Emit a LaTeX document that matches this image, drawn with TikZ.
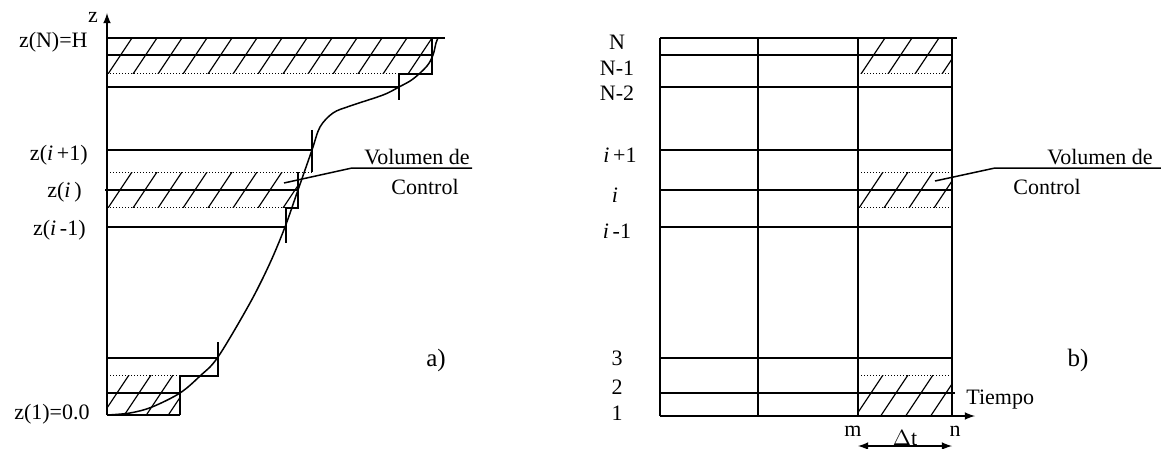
\documentclass[tikz,border=0pt]{standalone}
\usepackage{fontspec}
\setmainfont{Liberation Serif}
\usetikzlibrary{calc,positioning}
\tikzset{
 vc line/.style={line width=0.75pt},
 vc dotted/.style={line width=0.5pt,densely dotted},
 vc hatch/.style={line width=0.6pt},
 vc label/.style={font=\fontsize{11}{13}\selectfont,inner sep=0pt},
 vc tag/.style={font=\fontsize{12.5}{14}\selectfont,inner sep=0pt}
}
% #1,#2 top left -- #3,#4 bottom right, #5 spacing, #6 number of strokes
\newcommand{\hatchband}[6]{%
 \begin{scope}
  \clip (#1,#2) rectangle (#3,#4);
  \foreach \k in {0,...,#6}
   \draw[vc hatch] ({#1+\k*#5+40},#2-60) -- ({#1+\k*#5-40},#2+60);
 \end{scope}}

\begin{document}
\begin{tikzpicture}[x=0.5pt,y=-0.5pt]
 \useasboundingbox (0,0) rectangle (1161,449);

 % ---- a) profile ----
 \coordinate (o) at (107,415);
 \coordinate (ztop) at (107,13);
 \draw[vc line,-latex] (o) -- (ztop);
 \node[vc label] (zname) at (93,17) {z};

 \hatchband{107}{38}{432}{74}{25}{15}
 \hatchband{107}{172}{298}{207}{25}{9}
 \hatchband{107}{375}{180}{415}{22}{5}

 \draw[vc line] (107,38) -- (445,38);
 \draw[vc line] (107,55) -- (432,55);
 \draw[vc dotted] (107,74) -- (399,74);
 \draw[vc line] (107,87) -- (399,87);
 \draw[vc line] (432,38) -- (432,74) -- (399,74) -- (399,100);

 \draw[vc line] (107,150) -- (312,150);
 \draw[vc line] (312,130) -- (312,172);
 \draw[vc dotted] (107,172) -- (312,172);
 \draw[vc line] (105,190) -- (298,190);
 \draw[vc line] (298,172) -- (298,208) -- (286,208) -- (286,243);
 \draw[vc dotted] (107,207) -- (286,207);
 \draw[vc line] (107,227) -- (286,227);

 \draw[vc line] (107,358) -- (218,358);
 \draw[vc line] (218,342) -- (218,376) -- (180,376) -- (180,415);
 \draw[vc dotted] (107,375) -- (180,375);
 \draw[vc line] (107,393) -- (180,393);
 \draw[vc line] (107,415) -- (180,415);

 \draw[vc line] plot[smooth,tension=0.55] coordinates {
   (107,415) (130,413) (152,407) (180,393) (200,376) (218,357)
   (250,303) (270,263) (285,227) (298,190) (312,150) (320,127)
   (333,113) (350,106) (383,95) (399,87) (413,79) (427,66)
   (433,55) (436,43) (438,38)};

 \node[vc label,anchor=east] (zN) at (88,42) {z(N)=H};
 \node[vc label,anchor=east] (zip) at (88,155) {z(\textit{i}\,+1)};
 \node[vc label,anchor=east] (zi) at (82,192) {z(\textit{i}\,)};
 \node[vc label,anchor=east] (zim) at (86,230) {z(\textit{i}\,-1)};
 \node[vc label,anchor=east] (z1) at (90,414) {z(1)=0.0};
 \node[vc tag] (taga) at (436,360) {a)};

 \node[vc label,anchor=south east] (vola) at (470,165) {Volumen de};
 \node[vc label] (cona) at (425,187) {Control};
 \coordinate (leada) at (352,168);
 \coordinate (tipa) at (284,183);
 \draw[vc line] (tipa) -- (leada) -- (472,168);

 % ---- b) mesh ----
 \hatchband{858}{38}{952}{74}{27}{5}
 \hatchband{858}{172}{952}{207}{25}{5}
 \hatchband{858}{375}{952}{416}{25}{5}

 \foreach \yy in {55,87,150,190,227,358}
  \draw[vc line] (660,\yy) -- (952,\yy);
 \draw[vc line] (660,38) -- (957,38);
 \draw[vc line] (660,393) -- (955,393);
 \foreach \yy in {74,172,207,375}
  \draw[vc dotted] (858,\yy) -- (952,\yy);
 \foreach \xx in {660,758,858,952}
  \draw[vc line] (\xx,38) -- (\xx,416);
 \coordinate (t0) at (660,416);
 \coordinate (t1) at (975,416);
 \draw[vc line,-latex] (t0) -- (t1);

 \node[vc label] (lN) at (617,42) {N};
 \node[vc label] (lN1) at (617,68) {N-1};
 \node[vc label] (lN2) at (617,93) {N-2};
 \node[vc label] (lip) at (620,155) {\textit{i}\,+1};
 \node[vc label] (li) at (615,195) {\textit{i}};
 \node[vc label] (lim) at (617,231) {\textit{i}\,-1};
 \node[vc label] (l3) at (617,358) {3};
 \node[vc label] (l2) at (617,387) {2};
 \node[vc label] (l1) at (617,413) {1};
 \node[vc tag] (tagb) at (1078,360) {b)};
 \node[vc label,anchor=west] (tiempo) at (966,400) {Tiempo};

 \node[vc label] (lm) at (853,431) {m};
 \node[vc label] (ln) at (955,431) {n};
 \node[vc label,anchor=south] (dt) at (905,446) {$\Delta$t};
 \coordinate (dta) at (858,446);
 \coordinate (dtb) at (952,446);
 \draw[vc line,latex-latex] (dta) -- (dtb);

 \node[vc label,anchor=south east] (volb) at (1153,165) {Volumen de};
 \node[vc label] (conb) at (1047,187) {Control};
 \coordinate (leadb) at (995,168);
 \coordinate (tipb) at (935,181);
 \draw[vc line] (tipb) -- (leadb) -- (1161,168);
\end{tikzpicture}
\end{document}
